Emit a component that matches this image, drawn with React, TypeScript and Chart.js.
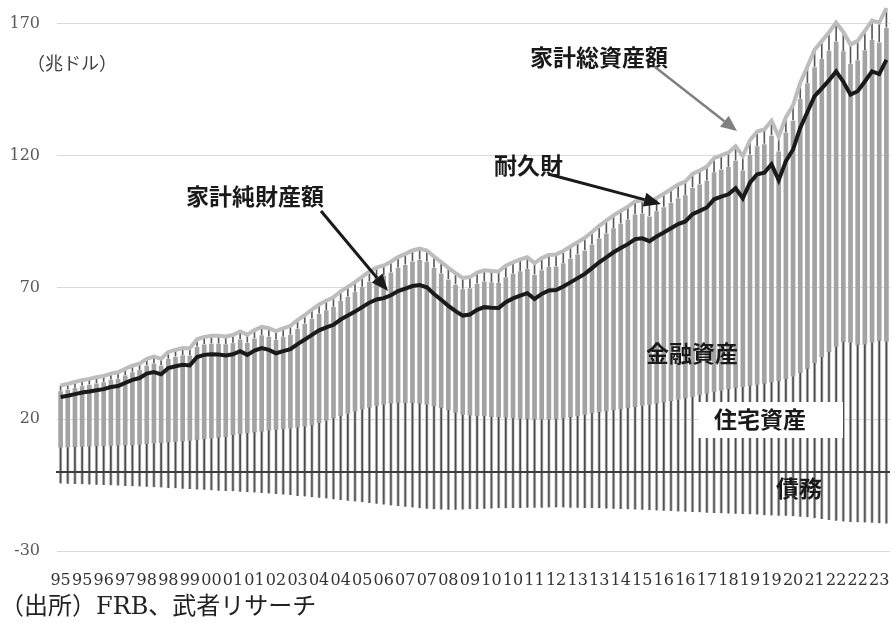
import { useEffect, useRef } from "react";
import { Chart, registerables } from "chart.js";

Chart.register(...registerables);

// Quarterly data, 1995Q1 – 2023Q4, trillions of US dollars
const years = [
  "95", "96", "97", "98", "99", "00", "01", "02", "03", "04",
  "05", "06", "07", "08", "09", "10", "11", "12", "13", "14",
  "15", "16", "17", "18", "19", "20", "21", "22", "23",
];
const quarterLabels = years.flatMap((y) => [y, y, y, y]);

const housing = [
  9.3, 9.4, 9.5, 9.6, 9.7, 9.8, 9.9, 10.0, 10.1, 10.2, 10.3, 10.5,
  10.7, 10.9, 11.1, 11.3, 11.5, 11.7, 11.9, 12.2, 12.5, 12.8, 13.1, 13.4,
  14.0, 14.4, 14.8, 15.1, 15.4, 15.8, 16.1, 16.4, 16.6, 16.9, 17.3, 17.8,
  18.6, 19.5, 20.5, 21.3, 22.2, 23.0, 23.8, 24.5, 25.2, 25.7, 26.0, 26.2,
  26.2, 26.2, 26.0, 25.6, 25.0, 24.4, 23.6, 22.6, 21.8, 21.5, 21.3, 21.2,
  21.0, 20.8, 20.7, 20.5, 20.3, 20.2, 20.1, 20.0, 20.0, 20.2, 20.5, 20.8,
  21.2, 21.8, 22.3, 22.7, 23.1, 23.5, 23.9, 24.3, 24.7, 25.2, 25.6, 26.0,
  26.5, 27.0, 27.5, 28.0, 28.5, 29.2, 29.8, 30.4, 30.9, 31.5, 32.0, 32.3,
  32.7, 33.2, 33.6, 34.1, 34.6, 35.3, 36.3, 37.6, 39.2, 41.3, 43.6, 45.6,
  47.6, 49.4, 49.2, 48.3, 48.4, 49.2, 49.8, 49.5,
];

const financial = [
  21.2, 21.7, 22.2, 22.8, 23.2, 23.6, 24.0, 24.8, 25.1, 26.3, 27.4, 28.0,
  29.5, 30.1, 29.1, 31.4, 32.0, 32.4, 32.1, 35.1, 35.7, 35.7, 35.4, 34.9,
  34.7, 35.7, 34.0, 35.4, 36.3, 35.3, 33.9, 34.6, 35.3, 37.2, 38.7, 40.2,
  41.2, 41.7, 41.9, 43.4, 44.1, 45.1, 46.2, 47.5, 48.2, 48.5, 49.5, 51.1,
  52.2, 53.5, 54.3, 54.0, 52.3, 50.7, 49.3, 48.3, 47.4, 48.0, 49.9, 50.9,
  50.8, 50.7, 53.0, 54.5, 55.7, 56.6, 54.5, 56.4, 57.6, 57.6, 58.5, 59.9,
  61.1, 62.1, 63.8, 65.7, 67.2, 68.8, 70.1, 71.2, 72.8, 72.7, 71.2, 72.7,
  73.8, 74.9, 76.2, 76.8, 79.1, 79.7, 80.5, 83.1, 83.7, 84.0, 85.9, 81.9,
  87.4, 90.2, 90.6, 93.3, 86.8, 93.3, 96.8, 103.7, 108.1, 112.1, 112.9, 114.0,
  115.5, 110.0, 105.4, 107.7, 111.4, 114.5, 113.0, 118.8,
];

const durables = [
  2.3, 2.3, 2.4, 2.4, 2.4, 2.5, 2.5, 2.5, 2.6, 2.6, 2.6, 2.6,
  2.7, 2.7, 2.7, 2.8, 2.8, 2.9, 2.9, 3.0, 3.0, 3.1, 3.1, 3.1,
  3.2, 3.2, 3.2, 3.3, 3.3, 3.4, 3.4, 3.4, 3.5, 3.5, 3.5, 3.6,
  3.7, 3.7, 3.8, 3.8, 3.9, 3.9, 4.0, 4.0, 4.1, 4.1, 4.2, 4.2,
  4.3, 4.3, 4.4, 4.4, 4.4, 4.5, 4.5, 4.5, 4.4, 4.4, 4.4, 4.4,
  4.4, 4.5, 4.5, 4.5, 4.6, 4.6, 4.6, 4.7, 4.7, 4.7, 4.8, 4.8,
  4.8, 4.9, 4.9, 4.9, 5.0, 5.0, 5.0, 5.1, 5.1, 5.1, 5.2, 5.2,
  5.2, 5.3, 5.3, 5.3, 5.4, 5.4, 5.5, 5.5, 5.5, 5.6, 5.6, 5.6,
  5.7, 5.7, 5.7, 5.8, 5.8, 5.9, 6.0, 6.2, 6.4, 6.7, 6.9, 7.1,
  7.3, 7.4, 7.5, 7.5, 7.5, 7.5, 7.6, 7.6,
];

const debt = [
  -4.4, -4.5, -4.6, -4.7, -4.8, -4.9, -5.0, -5.1, -5.2, -5.3, -5.4, -5.5,
  -5.6, -5.8, -5.9, -6.1, -6.2, -6.4, -6.5, -6.7, -6.8, -7.0, -7.1, -7.2,
  -7.3, -7.5, -7.6, -7.8, -8.0, -8.2, -8.4, -8.6, -8.8, -9.1, -9.3, -9.6,
  -9.8, -10.1, -10.4, -10.7, -10.9, -11.2, -11.5, -11.8, -12.1, -12.4, -12.7, -12.9,
  -13.2, -13.5, -13.8, -14.0, -14.2, -14.3, -14.4, -14.4, -14.3, -14.2, -14.1, -14.0,
  -13.9, -13.8, -13.8, -13.7, -13.7, -13.6, -13.6, -13.6, -13.5, -13.5, -13.5, -13.6,
  -13.6, -13.7, -13.7, -13.8, -13.9, -14.0, -14.1, -14.2, -14.3, -14.4, -14.5, -14.6,
  -14.7, -14.8, -15.0, -15.1, -15.2, -15.3, -15.5, -15.6, -15.7, -15.8, -15.9, -16.0,
  -16.1, -16.2, -16.4, -16.5, -16.6, -16.6, -16.8, -17.0, -17.2, -17.6, -17.9, -18.2,
  -18.5, -18.8, -19.0, -19.1, -19.2, -19.3, -19.5, -19.6,
];

// Total assets = real estate + financial assets + durables; net worth = total assets − liabilities
const totalAssets = housing.map((h, i) => +(h + financial[i] + durables[i]).toFixed(2));
const netWorth = totalAssets.map((t, i) => +(t + debt[i]).toFixed(2));

const yTicks = [-30, 20, 70, 120, 170];

const SERIF = '"DejaVu Serif", "Noto Sans CJK JP", serif';
const GOTHIC = '"Noto Sans CJK JP", "Noto Sans", sans-serif';

function drawArrow(
  ctx: CanvasRenderingContext2D,
  x1: number, y1: number, x2: number, y2: number,
  color: string, width: number, headLen: number, headHalf: number
) {
  const ang = Math.atan2(y2 - y1, x2 - x1);
  const bx = x2 - headLen * Math.cos(ang);
  const by = y2 - headLen * Math.sin(ang);
  ctx.save();
  ctx.strokeStyle = color;
  ctx.fillStyle = color;
  ctx.lineWidth = width;
  ctx.lineCap = "butt";
  ctx.beginPath();
  ctx.moveTo(x1, y1);
  ctx.lineTo(bx, by);
  ctx.stroke();
  ctx.beginPath();
  ctx.moveTo(x2, y2);
  ctx.lineTo(bx + headHalf * Math.sin(ang), by - headHalf * Math.cos(ang));
  ctx.lineTo(bx - headHalf * Math.sin(ang), by + headHalf * Math.cos(ang));
  ctx.closePath();
  ctx.fill();
  ctx.restore();
}

const zeroLinePlugin = {
  id: "zeroLine",
  afterDatasetsDraw(chart: any) {
    const { ctx, chartArea, scales } = chart;
    const y = Math.round(scales.y.getPixelForValue(0));
    ctx.save();
    ctx.strokeStyle = "#3c3c3c";
    ctx.lineWidth = 2;
    ctx.beginPath();
    ctx.moveTo(chartArea.left - 1, y);
    ctx.lineTo(chartArea.right, y);
    ctx.stroke();
    ctx.restore();
  },
};

const annotationPlugin = {
  id: "annotations",
  afterDraw(chart: any) {
    const { ctx } = chart;
    ctx.save();

    // unit label
    ctx.fillStyle = "#404040";
    ctx.font = `18px ${SERIF}`;
    ctx.textBaseline = "middle";
    ctx.textAlign = "left";
    ctx.fillText("（兆ドル）", 27, 65);

    // white box behind the housing label
    ctx.fillStyle = "#ffffff";
    ctx.fillRect(698, 402, 145, 36);

    ctx.fillStyle = "#1a1a1a";
    ctx.font = `bold 23px ${GOTHIC}`;
    ctx.fillText("家計総資産額", 530, 57);
    ctx.fillText("耐久財", 494, 165);
    ctx.fillText("家計純財産額", 186, 196);
    ctx.fillText("金融資産", 646, 353);
    ctx.fillText("住宅資産", 714, 419);
    ctx.fillText("債務", 776, 488);

    drawArrow(ctx, 655, 67, 737, 131, "#808080", 2.5, 16, 7);
    drawArrow(ctx, 548, 174, 661, 204, "#1a1a1a", 3, 17, 7);
    drawArrow(ctx, 321, 211, 388, 291, "#1a1a1a", 3, 17, 7);

    // source note
    ctx.fillStyle = "#222222";
    ctx.font = `24px ${SERIF}`;
    ctx.fillText("（出所）FRB、武者リサーチ", 0, 608);
    ctx.restore();
  },
};

export default function App() {
  const canvasRef = useRef<HTMLCanvasElement | null>(null);

  useEffect(() => {
    if (!canvasRef.current) return;
    const chart = new Chart(canvasRef.current, {
      type: "bar",
      data: {
        labels: quarterLabels,
        datasets: [
          {
            type: "line",
            label: "家計純財産額",
            data: netWorth,
            borderColor: "#1a1a1a",
            borderWidth: 4,
            pointRadius: 0,
            tension: 0,
            stack: "netWorth",
            order: 0,
          } as any,
          {
            type: "line",
            label: "家計総資産額",
            data: totalAssets,
            borderColor: "#bdbdbd",
            borderWidth: 4,
            pointRadius: 0,
            tension: 0,
            stack: "totalAssets",
            order: 1,
          } as any,
          {
            label: "住宅資産",
            data: housing,
            backgroundColor: "#4a4a4a",
            borderColor: "#cccccc",
            borderWidth: { left: 1, right: 1, top: 0, bottom: 0 },
            borderSkipped: false,
            barThickness: 3,
            order: 2,
          },
          {
            label: "金融資産",
            data: financial,
            backgroundColor: "#a3a3a3",
            borderWidth: 0,
            barThickness: 4,
            order: 3,
          },
          {
            label: "耐久財",
            data: durables,
            backgroundColor: "#5a5a5a",
            borderColor: "#ffffff",
            borderWidth: { left: 1, right: 1, top: 0, bottom: 1 },
            borderSkipped: false,
            barThickness: 3,
            order: 4,
          },
          {
            label: "債務",
            data: debt,
            backgroundColor: "#555555",
            borderColor: "#c4c4c4",
            borderWidth: { left: 1, right: 1, top: 0, bottom: 0 },
            borderSkipped: false,
            barThickness: 3,
            order: 5,
          },
        ],
      },
      options: {
        responsive: false,
        animation: false,
        events: [],
        layout: { padding: { left: 0, right: 2, top: 0, bottom: 0 } },
        plugins: {
          legend: { display: false },
          tooltip: { enabled: false },
          title: { display: false },
        },
        scales: {
          x: {
            stacked: true,
            grid: { display: false },
            border: { display: false },
            ticks: {
              autoSkip: false,
              maxRotation: 0,
              minRotation: 0,
              padding: 12,
              color: "#333333",
              font: { family: SERIF, size: 16 },
              callback: (_v: any, i: number) => (i % 3 === 0 ? quarterLabels[i] : ""),
            },
            afterFit: (scale: any) => {
              scale.height = 72;
              scale.paddingLeft = 0;
              scale.paddingRight = 0;
            },
          },
          y: {
            stacked: true,
            min: -30,
            max: 179,
            grid: { color: "#d9d9d9", lineWidth: 1, drawTicks: false },
            border: { display: false },
            ticks: {
              padding: 17,
              color: "#595959",
              font: { family: SERIF, size: 16 },
            },
            afterBuildTicks: (scale: any) => {
              scale.ticks = yTicks.map((v) => ({ value: v }));
            },
            afterFit: (scale: any) => {
              scale.width = 57;
              scale.paddingTop = 0;
              scale.paddingBottom = 0;
            },
          },
        },
      },
      plugins: [zeroLinePlugin, annotationPlugin],
    });
    return () => chart.destroy();
  }, []);

  return (
    <div style={{ position: "fixed", left: 0, top: 0, width: 892, height: 623, background: "#ffffff" }}>
      <canvas ref={canvasRef} width={892} height={623} />
    </div>
  );
}
